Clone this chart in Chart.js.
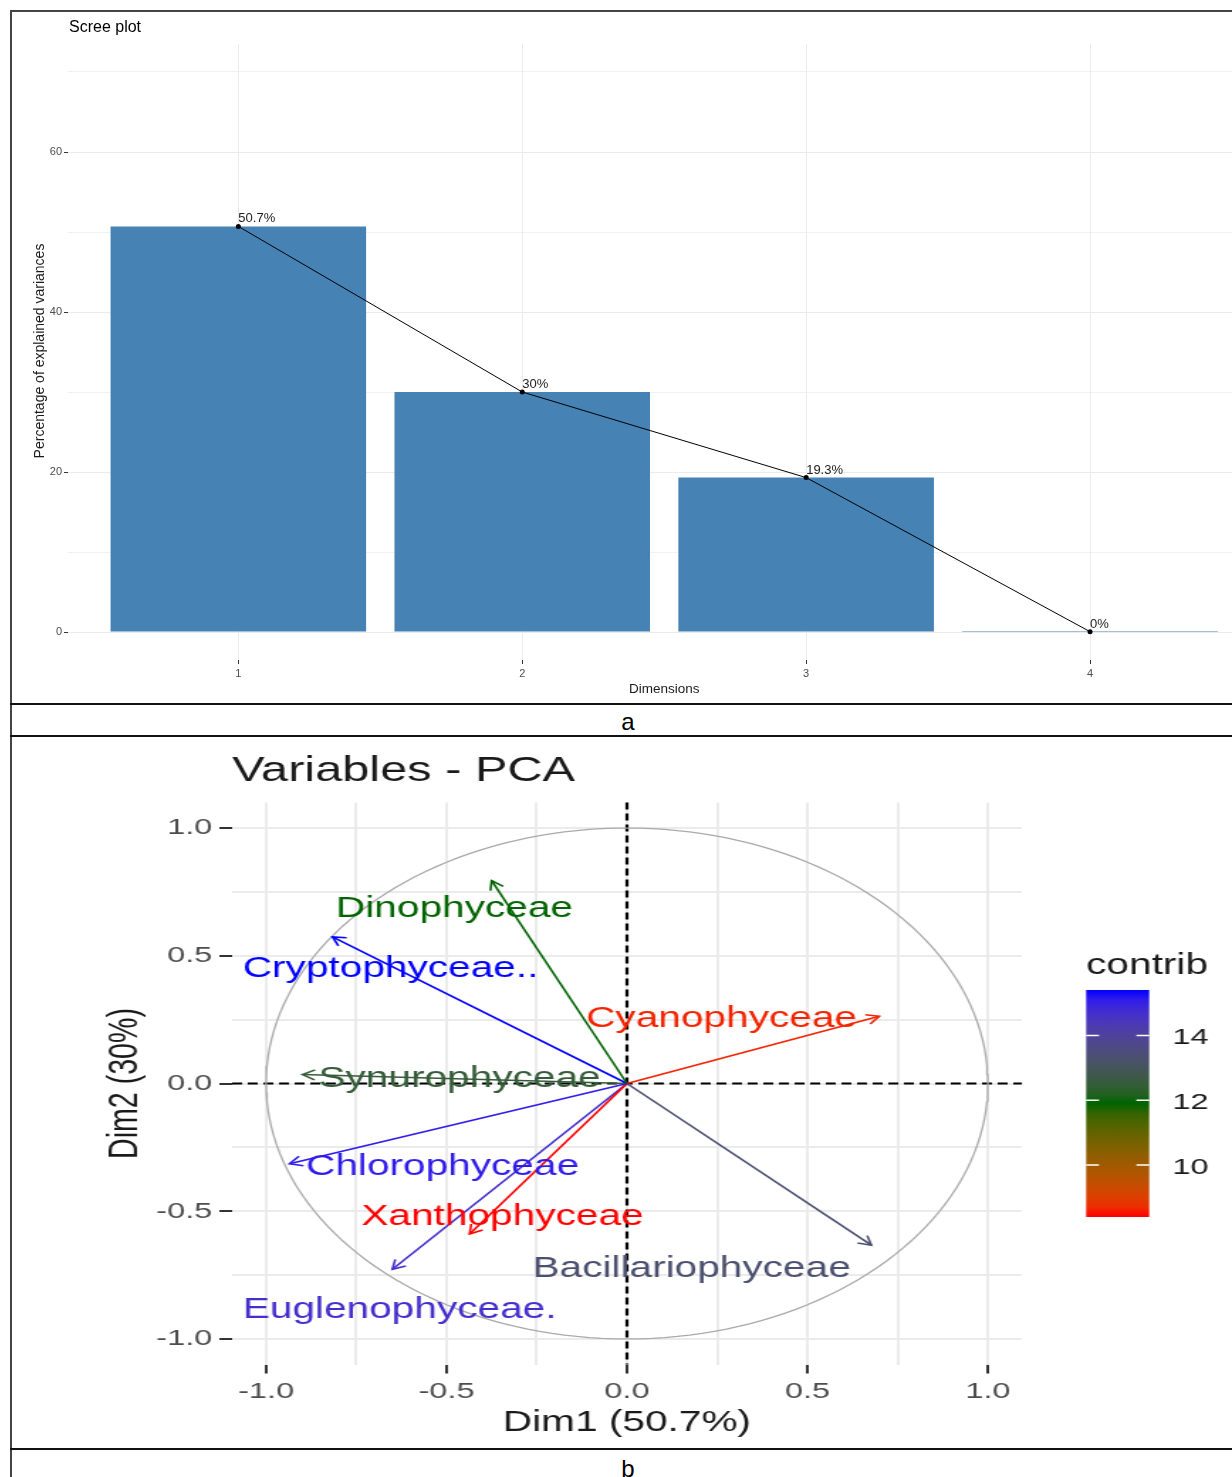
<!DOCTYPE html>
<html>
<head>
<meta charset="utf-8">
<title>Scree plot / Variables - PCA</title>
<script src="https://cdn.jsdelivr.net/npm/chart.js@4.4.1/dist/chart.umd.min.js"></script>
<style>
  html, body { margin: 0; padding: 0; background: #fff; overflow: hidden; }
  body { width: 1232px; height: 1477px; position: relative; font-family: 'Liberation Sans', Arial, sans-serif; }
  .rule { position: absolute; background: #111; }
  .panel-label { position: absolute; left: 0; width: 1256px; text-align: center; font-size: 24px; line-height: 24px; color: #000; }
  canvas { position: absolute; }
</style>
</head>
<body>
<div class="rule" style="left:10px;top:10px;width:2px;height:1467px;background:#444"></div>
<div class="rule" style="left:10px;top:10px;width:1222px;height:2px;background:#444"></div>
<div class="rule" style="left:10px;top:703px;width:1222px;height:2px"></div>
<div class="rule" style="left:10px;top:735px;width:1222px;height:2px"></div>
<div class="rule" style="left:10px;top:1448px;width:1222px;height:2px"></div>
<div class="panel-label" style="top:710px">a</div>
<div class="panel-label" style="top:1457px">b</div>

<canvas id="scree" width="1220" height="692" style="left:12px;top:12px;width:1220px;height:692px"></canvas>
<!-- the reference panel b is stretched sideways, so this canvas is drawn narrow and widened by css -->
<canvas id="pca" width="859" height="710" style="left:12px;top:738px;width:1220px;height:710px"></canvas>

<script>
// scree plot
const dims = [1, 2, 3, 4];
const explained = [50.7, 30.0, 19.3, 0.04];
const screeTicks = [0, 10, 20, 30, 40, 50, 60, 70];

// variables - PCA
const varNames = ['Dinophyceae', 'Cryptophyceae..', 'Cyanophyceae', 'Synurophyceae',
                  'Chlorophyceae', 'Xanthophyceae', 'Euglenophyceae.', 'Bacillariophyceae'];
const dim1 = [-0.375, -0.816, 0.699, -0.899, -0.935, -0.436, -0.650, 0.677];
const dim2 = [0.794, 0.574, 0.263, 0.035, -0.314, -0.589, -0.727, -0.633];
const contrib = [11.9, 15.4, 8.6, 12.5, 15.1, 8.4, 14.7, 13.3];
const labelX = [-0.478, -0.655, 0.262, -0.464, -0.511, -0.345, -0.630, 0.179];
const labelY = [0.695, 0.460, 0.263, 0.028, -0.318, -0.511, -0.876, -0.715];
const pcaTicks = [-1, -0.75, -0.5, -0.25, 0, 0.25, 0.5, 0.75, 1];
const contribTicks = [10, 12, 14];
const gradientCols = ['#FF0000', '#006400', '#0000FF'];

const FONT = "'Liberation Sans', Arial, sans-serif";
Chart.defaults.font.family = FONT;

document.addEventListener("DOMContentLoaded", () => {
  initScree();
  initPca();
});

function pctLabel(v) {
  return parseFloat(v.toFixed(1)) + '%';
}

function text(ctx, str, x, y, size, color, align, rot, baseline) {
  ctx.save();
  ctx.font = size + 'px ' + FONT;
  ctx.fillStyle = color;
  ctx.textAlign = align || 'left';
  ctx.textBaseline = baseline || 'middle';
  ctx.translate(x, y);
  if (rot) ctx.rotate(rot);
  // 'middle' sits a bit high for capitals, push it down a touch
  ctx.fillText(str, 0, baseline ? 0 : size * 0.1);
  ctx.restore();
}

// ggplot style gradient: colours mixed in CIELAB
function hexToLab(hex) {
  const c = [1, 3, 5].map(i => parseInt(hex.substr(i, 2), 16) / 255)
    .map(v => v <= 0.04045 ? v / 12.92 : Math.pow((v + 0.055) / 1.055, 2.4));
  const X = (0.4124564 * c[0] + 0.3575761 * c[1] + 0.1804375 * c[2]) / 0.95047;
  const Y = 0.2126729 * c[0] + 0.7151522 * c[1] + 0.0721750 * c[2];
  const Z = (0.0193339 * c[0] + 0.1191920 * c[1] + 0.9503041 * c[2]) / 1.08883;
  const f = t => t > 0.008856 ? Math.cbrt(t) : 7.787 * t + 16 / 116;
  return [116 * f(Y) - 16, 500 * (f(X) - f(Y)), 200 * (f(Y) - f(Z))];
}

function labToRgb(L, a, b) {
  const fy = (L + 16) / 116, fx = fy + a / 500, fz = fy - b / 200;
  const inv = t => t * t * t > 0.008856 ? t * t * t : (t - 16 / 116) / 7.787;
  const X = 0.95047 * inv(fx), Y = inv(fy), Z = 1.08883 * inv(fz);
  const lin = [
    3.2404542 * X - 1.5371385 * Y - 0.4985314 * Z,
    -0.9692660 * X + 1.8760108 * Y + 0.0415560 * Z,
    0.0556434 * X - 0.2040259 * Y + 1.0572252 * Z
  ];
  const rgb = lin
    .map(v => v <= 0.0031308 ? 12.92 * v : 1.055 * Math.pow(v, 1 / 2.4) - 0.055)
    .map(v => Math.round(Math.min(1, Math.max(0, v)) * 255));
  return 'rgb(' + rgb.join(',') + ')';
}

function rampLab(hexes, t) {
  t = Math.min(1, Math.max(0, t));
  const n = hexes.length - 1;
  const k = Math.min(n - 1, Math.floor(t * n));
  const u = t * n - k;
  const a = hexToLab(hexes[k]), b = hexToLab(hexes[k + 1]);
  return labToRgb(...a.map((v, j) => v + (b[j] - v) * u));
}

function initScree() {
  const ctx = document.getElementById("scree").getContext("2d");
  const points = dims.map((d, i) => ({ x: d, y: explained[i] }));

  const pointLabels = {
    id: 'pointLabels',
    afterDatasetsDraw(chart) {
      const meta = chart.getDatasetMeta(0);
      meta.data.forEach((pt, i) => {
        text(chart.ctx, pctLabel(explained[i]), pt.x, pt.y - 4, 13, '#222', 'left', 0, 'alphabetic');
      });
    }
  };

  const screeTitles = {
    id: 'screeTitles',
    afterDraw(chart) {
      const { ctx, chartArea, scales } = chart;
      text(ctx, 'Scree plot', chartArea.left + 1, 14, 16, '#000');
      text(ctx, 'Percentage of explained variances', 27, (chartArea.top + chartArea.bottom) / 2 - 1, 14, '#1a1a1a', 'center', -Math.PI / 2);
      text(ctx, 'Dimensions', scales.x.getPixelForValue(2.5), 676, 13.5, '#1a1a1a', 'center');
    }
  };

  new Chart(ctx, {
    type: "bar",
    data: {
      datasets: [
        {
          type: "line",
          data: points,
          borderColor: "#000",
          borderWidth: 1,
          pointRadius: 2.5,
          pointBackgroundColor: "#000",
          pointBorderWidth: 0,
          order: 0
        },
        {
          type: "bar",
          data: points,
          backgroundColor: "#4682B4",
          barPercentage: 0.9,
          categoryPercentage: 1,
          minBarLength: 1,
          order: 1
        }
      ]
    },
    options: {
      responsive: false,
      animation: false,
      devicePixelRatio: 1,
      events: [],
      layout: { autoPadding: false, padding: { left: 0, top: 32, right: 0, bottom: 0 } },
      plugins: { legend: { display: false }, tooltip: { enabled: false } },
      scales: {
        x: {
          type: "linear",
          min: 0.4,
          max: 4.5,
          offset: false,
          afterBuildTicks: s => { s.ticks = dims.map(v => ({ value: v })); },
          afterFit: s => { s.height = 44; },
          grid: { offset: false, color: "#ebebeb", lineWidth: 1, tickColor: "#333", tickLength: 4 },
          border: { display: false },
          ticks: { color: "#4d4d4d", font: { size: 11 }, padding: 3, autoSkip: false, maxRotation: 0 }
        },
        y: {
          min: -3.5,
          max: 73.5,
          afterBuildTicks: s => { s.ticks = screeTicks.map(v => ({ value: v })); },
          afterFit: s => { s.width = 56; },
          grid: {
            color: "#ebebeb",
            lineWidth: c => (c.tick && c.tick.value % 20) ? 0.7 : 1,
            tickColor: c => (c.tick && c.tick.value % 20) ? "rgba(0,0,0,0)" : "#333",
            tickLength: 4
          },
          border: { display: false },
          ticks: {
            color: "#4d4d4d", font: { size: 11 }, padding: 2, autoSkip: false,
            callback: v => v % 20 ? '' : v
          }
        }
      }
    },
    plugins: [pointLabels, screeTitles]
  });
}

function initPca() {
  const ctx = document.getElementById("pca").getContext("2d");
  const cmin = Math.min(...contrib);
  const cmax = Math.max(...contrib);
  const colourOf = v => rampLab(gradientCols, (v - cmin) / (cmax - cmin));
  const isMajor = v => Math.abs(v * 2 - Math.round(v * 2)) < 1e-6;

  // unit circle
  const circle = [];
  for (let a = 0; a <= 360; a += 2) {
    circle.push({ x: Math.cos(a * Math.PI / 180), y: Math.sin(a * Math.PI / 180) });
  }

  const arrows = varNames.map((name, i) => ({
    label: name,
    data: [{ x: 0, y: 0 }, { x: dim1[i], y: dim2[i] }],
    showLine: true,
    borderColor: colourOf(contrib[i]),
    borderWidth: 1.6,
    pointRadius: 0,
    order: 0
  }));

  const zeroLines = {
    id: 'zeroLines',
    beforeDatasetsDraw(chart) {
      const { ctx, chartArea, scales } = chart;
      const x0 = scales.x.getPixelForValue(0);
      const y0 = scales.y.getPixelForValue(0);
      ctx.save();
      ctx.strokeStyle = '#000';
      ctx.lineWidth = 2.2;
      ctx.setLineDash([7, 4]);
      ctx.beginPath();
      ctx.moveTo(x0, chartArea.top);
      ctx.lineTo(x0, chartArea.bottom);
      ctx.moveTo(chartArea.left, y0);
      ctx.lineTo(chartArea.right, y0);
      ctx.stroke();
      ctx.restore();
    }
  };

  const arrowHeads = {
    id: 'arrowHeads',
    afterDatasetsDraw(chart) {
      const { ctx, scales } = chart;
      varNames.forEach((name, i) => {
        const pts = chart.getDatasetMeta(i).data;
        const p0 = pts[0], p1 = pts[1];
        const ang = Math.atan2(p1.y - p0.y, p1.x - p0.x);
        const len = 10, spread = Math.PI / 6;
        const col = colourOf(contrib[i]);
        ctx.save();
        ctx.strokeStyle = col;
        ctx.lineWidth = 1.6;
        ctx.beginPath();
        ctx.moveTo(p1.x - len * Math.cos(ang - spread), p1.y - len * Math.sin(ang - spread));
        ctx.lineTo(p1.x, p1.y);
        ctx.lineTo(p1.x - len * Math.cos(ang + spread), p1.y - len * Math.sin(ang + spread));
        ctx.stroke();
        ctx.restore();
        text(ctx, name, scales.x.getPixelForValue(labelX[i]), scales.y.getPixelForValue(labelY[i]), 28.6, col, 'center');
      });
    }
  };

  const pcaDecor = {
    id: 'pcaDecor',
    afterDraw(chart) {
      const { ctx, chartArea } = chart;
      text(ctx, 'Variables - PCA', chartArea.left, 30, 34.3, '#1a1a1a');
      text(ctx, 'Dim1 (' + pctLabel(explained[0]) + ')', (chartArea.left + chartArea.right) / 2, 682, 28.6, '#1a1a1a', 'center');
      text(ctx, 'Dim2 (' + pctLabel(explained[1]) + ')', 77.5, (chartArea.top + chartArea.bottom) / 2, 28.6, '#1a1a1a', 'center', -Math.PI / 2);

      // colour bar legend
      const bx = 756.3, bw = 44.4, by = 252, bh = 227;
      const g = ctx.createLinearGradient(0, by + bh, 0, by);
      for (let k = 0; k <= 24; k++) g.addColorStop(k / 24, rampLab(gradientCols, k / 24));
      ctx.fillStyle = g;
      ctx.fillRect(bx, by, bw, bh);
      text(ctx, 'contrib', bx, 225, 28.6, '#1a1a1a');
      contribTicks.forEach(v => {
        const y = by + bh - (v - cmin) / (cmax - cmin) * bh;
        ctx.save();
        ctx.strokeStyle = '#fff';
        ctx.lineWidth = 1.5;
        ctx.beginPath();
        ctx.moveTo(bx, y); ctx.lineTo(bx + 9, y);
        ctx.moveTo(bx + bw - 9, y); ctx.lineTo(bx + bw, y);
        ctx.stroke();
        ctx.restore();
        text(ctx, String(v), 817, y, 22.9, '#1a1a1a');
      });
    }
  };

  const axisOpts = (fit, pad) => ({
    afterBuildTicks: s => { s.ticks = pcaTicks.map(v => ({ value: v })); },
    afterFit: fit,
    grid: {
      color: "#ebebeb",
      lineWidth: 2,
      tickColor: c => (c.tick && isMajor(c.tick.value)) ? "#333" : "rgba(0,0,0,0)",
      tickLength: 9,
      tickWidth: 2
    },
    border: { display: false },
    ticks: {
      color: "#4d4d4d", font: { size: 22.9 }, padding: pad, autoSkip: false, maxRotation: 0,
      callback: v => isMajor(v) ? v.toFixed(1) : ''
    }
  });

  new Chart(ctx, {
    type: "scatter",
    data: {
      datasets: arrows.concat([{
        label: 'circle',
        data: circle,
        showLine: true,
        borderColor: '#aaaaaa',
        borderWidth: 1.3,
        pointRadius: 0,
        order: 10
      }])
    },
    options: {
      responsive: false,
      animation: false,
      devicePixelRatio: 1,
      events: [],
      layout: { autoPadding: false, padding: { left: 95, top: 64.5, right: 148, bottom: 33.5 } },
      plugins: { legend: { display: false }, tooltip: { enabled: false } },
      scales: {
        x: Object.assign({ type: "linear", min: -1.094, max: 1.094 }, axisOpts(s => { s.height = 50; }, 4)),
        y: Object.assign({ type: "linear", min: -1.1, max: 1.1 }, axisOpts(s => { s.width = 60; }, 5))
      }
    },
    plugins: [zeroLines, arrowHeads, pcaDecor]
  });
}
</script>
</body>
</html>
